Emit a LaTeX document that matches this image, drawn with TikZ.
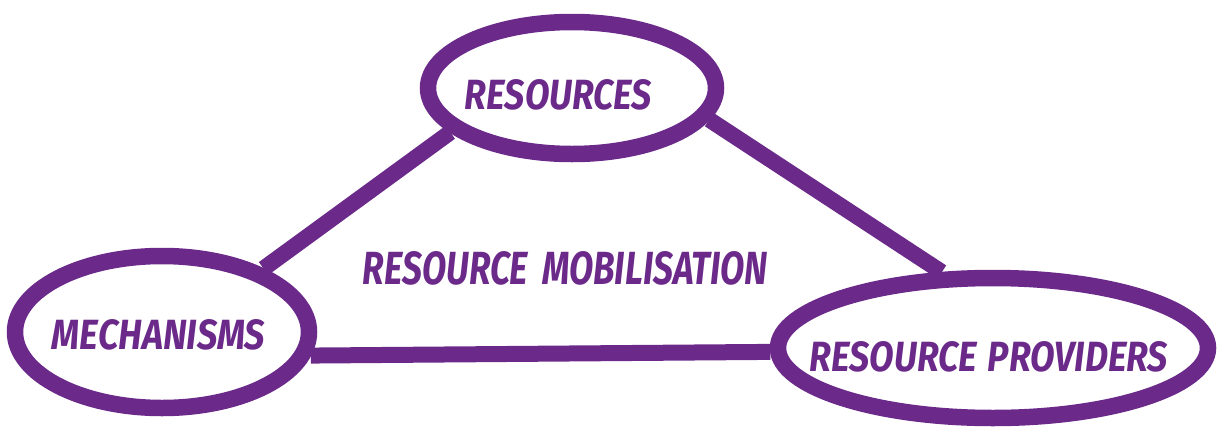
\documentclass[tikz,border=0pt]{standalone}
\usepackage{fontspec}
\newfontfamily\hand{Fira Sans}
\usetikzlibrary{shapes.geometric}
\definecolor{plum}{RGB}{107,42,138}
\tikzset{
  bubble/.style={ellipse, draw=plum, line width=16.5pt, inner sep=0pt, outer sep=8pt},
  link/.style={draw=plum, line width=16pt},
  word/.style={text=plum, inner sep=0pt, font=\hand\bfseries\itshape}
}
\newcommand{\fitword}[3]{\resizebox{#1pt}{#2pt}{#3}}
\begin{document}
\begin{tikzpicture}[x=1pt,y=-1pt]
\useasboundingbox (0,0) rectangle (1218,426);
\node[bubble, minimum width=288pt, minimum height=132pt] (res) at (572,88) {};
\node[bubble, minimum width=294pt, minimum height=152pt] (mech) at (162,332) {};
\node[bubble, minimum width=430pt, minimum height=140pt] (prov) at (993,348) {};
\draw[link] (res.200) -- (mech.32);
\draw[link] (res.-13) -- (prov.124);
\draw[link] (mech.-9) -- (prov.181);
\node[word] (tres) at (558.5,95) {\fitword{187}{30}{RESOURCES}};
\node[word] (tmech) at (158.5,335) {\fitword{213}{30}{MECHANISMS}};
\node[word] (tprov) at (989,357) {\fitword{358}{30}{RESOURCE\hspace{0.3em}PROVIDERS}};
\node[word] (tmob) at (565.5,268.5) {\fitword{405}{33}{RESOURCE\hspace{0.4em}MOBILISATION}};
\end{tikzpicture}
\end{document}
